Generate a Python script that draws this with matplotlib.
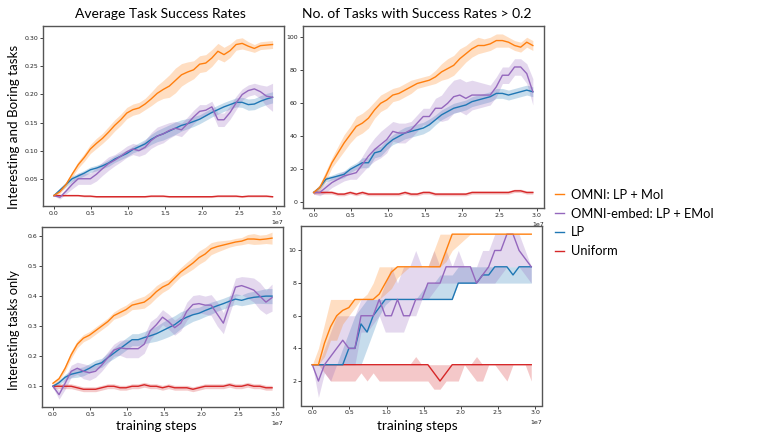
import numpy as np
import matplotlib.pyplot as plt

# training steps (37 evaluation points)
steps = np.linspace(0, 2.95e7, 37)

labels = ['OMNI: LP + MoI', 'OMNI-embed: LP + EMoI', 'LP', 'Uniform']
colors = ['#ff7f0e', '#9467bd', '#1f77b4', '#d62728']

# --- Interesting and Boring tasks: average success rate ---
avg_all_omni = [0.020, 0.027, 0.040, 0.058, 0.075, 0.088, 0.103, 0.113, 0.122, 0.133, 0.145, 0.155,
                0.167, 0.173, 0.176, 0.183, 0.192, 0.202, 0.209, 0.215, 0.225, 0.235, 0.240, 0.244,
                0.254, 0.256, 0.265, 0.277, 0.271, 0.278, 0.289, 0.291, 0.286, 0.282, 0.287, 0.288, 0.289]
avg_all_omni_sd = [0.001, 0.003, 0.004, 0.005, 0.006, 0.007, 0.008, 0.009, 0.009, 0.010, 0.010, 0.010,
                   0.010, 0.010, 0.010, 0.010, 0.012, 0.014, 0.016, 0.020, 0.022, 0.020, 0.018, 0.016,
                   0.015, 0.015, 0.015, 0.014, 0.013, 0.012, 0.010, 0.010, 0.008, 0.007, 0.007, 0.007, 0.007]
avg_all_embed = [0.020, 0.017, 0.028, 0.040, 0.050, 0.050, 0.050, 0.058, 0.068, 0.077, 0.083, 0.090,
                 0.098, 0.103, 0.100, 0.106, 0.118, 0.126, 0.130, 0.136, 0.140, 0.137, 0.148, 0.160,
                 0.170, 0.172, 0.178, 0.155, 0.155, 0.168, 0.185, 0.200, 0.207, 0.210, 0.205, 0.197, 0.195]
avg_all_embed_sd = [0.001, 0.003, 0.005, 0.008, 0.010, 0.010, 0.010, 0.012, 0.012, 0.012, 0.010, 0.010,
                    0.010, 0.010, 0.010, 0.012, 0.014, 0.016, 0.016, 0.014, 0.012, 0.012, 0.012, 0.012,
                    0.012, 0.010, 0.010, 0.012, 0.012, 0.012, 0.012, 0.010, 0.010, 0.010, 0.012, 0.018, 0.025]
avg_all_lp = [0.020, 0.030, 0.040, 0.050, 0.055, 0.060, 0.066, 0.069, 0.073, 0.078, 0.085, 0.090,
              0.095, 0.102, 0.107, 0.112, 0.120, 0.126, 0.130, 0.135, 0.140, 0.145, 0.148, 0.152,
              0.156, 0.162, 0.168, 0.173, 0.178, 0.182, 0.186, 0.186, 0.182, 0.183, 0.188, 0.192, 0.195]
avg_all_lp_sd = [0.001, 0.003, 0.004, 0.005, 0.005, 0.005, 0.005, 0.005, 0.005, 0.006, 0.006, 0.006,
                 0.006, 0.006, 0.007, 0.008, 0.009, 0.010, 0.011, 0.011, 0.011, 0.010, 0.009, 0.009,
                 0.008, 0.008, 0.008, 0.008, 0.008, 0.008, 0.008, 0.009, 0.010, 0.010, 0.010, 0.010, 0.010]
avg_all_uni = [0.020, 0.020, 0.020, 0.020, 0.020, 0.019, 0.019, 0.018, 0.018, 0.018, 0.018, 0.018,
               0.018, 0.018, 0.018, 0.018, 0.019, 0.019, 0.019, 0.018, 0.018, 0.018, 0.018, 0.018,
               0.018, 0.018, 0.018, 0.019, 0.019, 0.019, 0.019, 0.018, 0.019, 0.019, 0.019, 0.019, 0.018]
avg_all_uni_sd = [0.001] * 5 + [0.0015] * 32

# --- Interesting and Boring tasks: number of tasks with success rate > 0.2 ---
num_all_omni = [6, 9, 16, 24, 30, 36, 41, 46, 48, 51, 56, 60, 62, 65, 66, 68, 70, 72, 73, 74, 76, 79,
                81, 83, 87, 90, 93, 95, 95, 96, 98, 98, 97, 95, 94, 97, 95]
num_all_omni_sd = [1, 2, 3, 3, 4, 5, 5, 6, 6, 6, 5, 5, 5, 4, 4, 4, 4, 3, 3, 3, 4, 5, 6, 6, 6, 5, 5,
                   5, 4, 4, 4, 4, 3, 3, 3, 3, 3]
num_all_embed = [6, 6, 9, 12, 14, 16, 17, 18, 23, 28, 32, 35, 38, 43, 42, 42, 44, 48, 52, 52, 57, 57,
                 60, 64, 65, 63, 65, 65, 65, 65, 70, 77, 77, 82, 82, 78, 67]
num_all_embed_sd = [1, 2, 3, 3, 3, 3, 3, 4, 5, 6, 7, 8, 8, 6, 6, 6, 5, 5, 5, 5, 6, 8, 10, 10, 10, 10,
                    9, 8, 7, 6, 6, 5, 5, 5, 5, 6, 8]
num_all_lp = [6, 9, 14, 15, 16, 17, 20, 22, 24, 24, 30, 31, 35, 38, 40, 42, 43, 44, 45, 47, 50, 53,
              55, 57, 58, 59, 61, 62, 63, 64, 66, 66, 65, 66, 67, 68, 67]
num_all_lp_sd = [1, 1, 1.5, 1.5, 2, 2, 2, 2, 3, 3, 3, 3, 3, 3, 3.5, 3.5, 3.5, 3.5, 3.5, 3.5, 3, 3,
                 3, 3, 3, 3, 3, 3, 3, 3, 3, 3, 3, 3, 3, 3, 3]
num_all_uni = [6, 6, 6, 6, 5, 5, 6, 5, 6, 5, 5, 5, 5, 5, 5, 6, 5, 5, 6, 6, 5, 5, 5, 5, 5, 5, 6, 6,
               6, 6, 6, 6, 6, 7, 7, 6, 6]
num_all_uni_sd = [1] * 37

# --- Interesting tasks only: average success rate ---
avg_int_omni = [0.110, 0.125, 0.160, 0.205, 0.240, 0.260, 0.270, 0.285, 0.300, 0.315, 0.335, 0.345,
                0.355, 0.370, 0.375, 0.380, 0.395, 0.415, 0.430, 0.440, 0.460, 0.480, 0.495, 0.510,
                0.528, 0.540, 0.558, 0.565, 0.570, 0.575, 0.580, 0.583, 0.590, 0.590, 0.588, 0.590, 0.593]
avg_int_omni_sd = [0.005, 0.008, 0.010, 0.012, 0.012, 0.012, 0.012, 0.012, 0.012, 0.012, 0.012, 0.015,
                   0.015, 0.015, 0.018, 0.020, 0.020, 0.020, 0.018, 0.016, 0.015, 0.015, 0.018, 0.020,
                   0.022, 0.022, 0.020, 0.018, 0.015, 0.012, 0.012, 0.012, 0.015, 0.018, 0.015, 0.015, 0.020]
avg_int_embed = [0.100, 0.072, 0.110, 0.150, 0.160, 0.150, 0.145, 0.150, 0.170, 0.195, 0.220, 0.228,
                 0.225, 0.225, 0.225, 0.240, 0.285, 0.305, 0.330, 0.315, 0.295, 0.310, 0.350, 0.372,
                 0.375, 0.370, 0.370, 0.340, 0.310, 0.370, 0.430, 0.435, 0.428, 0.420, 0.400, 0.380, 0.395]
avg_int_embed_sd = [0.005, 0.015, 0.020, 0.020, 0.020, 0.025, 0.025, 0.020, 0.020, 0.020, 0.020, 0.025,
                    0.030, 0.030, 0.030, 0.030, 0.030, 0.025, 0.025, 0.025, 0.025, 0.025, 0.030, 0.030,
                    0.030, 0.030, 0.035, 0.040, 0.035, 0.030, 0.030, 0.030, 0.035, 0.040, 0.045, 0.040, 0.045]
avg_int_lp = [0.100, 0.112, 0.130, 0.140, 0.145, 0.150, 0.160, 0.172, 0.178, 0.195, 0.210, 0.225,
              0.240, 0.255, 0.255, 0.262, 0.268, 0.275, 0.285, 0.295, 0.305, 0.320, 0.330, 0.338,
              0.343, 0.352, 0.360, 0.368, 0.375, 0.383, 0.390, 0.386, 0.392, 0.396, 0.398, 0.400, 0.400]
avg_int_lp_sd = [0.005, 0.008, 0.010, 0.012, 0.015, 0.015, 0.015, 0.015, 0.015, 0.015, 0.018, 0.020,
                 0.020, 0.020, 0.020, 0.020, 0.022, 0.025, 0.028, 0.030, 0.030, 0.028, 0.025, 0.022,
                 0.020, 0.020, 0.020, 0.018, 0.018, 0.018, 0.018, 0.018, 0.020, 0.020, 0.022, 0.025, 0.025]
avg_int_uni = [0.100, 0.100, 0.100, 0.100, 0.095, 0.090, 0.090, 0.090, 0.095, 0.100, 0.100, 0.095,
               0.095, 0.100, 0.100, 0.105, 0.100, 0.100, 0.095, 0.100, 0.095, 0.095, 0.095, 0.090,
               0.095, 0.100, 0.100, 0.100, 0.100, 0.105, 0.100, 0.100, 0.105, 0.100, 0.100, 0.095, 0.095]
avg_int_uni_sd = [0.008] * 37

# --- Interesting tasks only: number of tasks with success rate > 0.2 (mean / lower / upper) ---
num_int_omni = [3, 3, 4.33, 5.33, 6, 6.33, 6.5, 7, 7, 7, 7, 7.33, 8, 8.67, 9, 9, 9, 9, 9, 9, 9, 9,
                10, 11, 11, 11, 11, 11, 11, 11, 11, 11, 11, 11, 11, 11, 11]
num_int_omni_lo = [3, 3, 3.5, 4.5, 4.5, 5.5, 6, 6.5, 7, 7, 7, 7, 7.33, 7.67, 8.33, 8.67, 9, 9, 9, 9,
                   9, 9, 9.33, 10, 10.33, 10.67, 11, 11, 11, 11, 11, 11, 11, 11, 11, 11, 11]
num_int_omni_hi = [3, 4, 5.5, 7, 7, 7, 7, 7, 7, 7.33, 8, 9, 9, 9, 9, 9, 9, 9, 9, 9, 10, 11, 11, 11,
                   11, 11, 11, 11, 11, 11, 11, 11, 11, 11, 11, 11, 11]
num_int_embed = [3, 2, 3, 3.5, 4, 4.5, 4, 4, 6, 6, 6, 7, 6, 6, 7, 6, 6, 7, 7, 8, 8, 8, 9, 9, 9, 9,
                 9, 8, 8.5, 9, 10, 10, 11, 11, 10, 9.5, 9]
num_int_embed_lo = [3, 1, 2.5, 2, 3, 3, 3, 3, 5, 5, 5.5, 6, 5, 5, 5, 5, 6, 6, 7, 7, 7.5, 8, 8, 8, 8,
                    8, 8, 8, 8, 8, 8, 8.5, 9, 9, 9, 8.5, 8]
num_int_embed_hi = [3, 3, 4, 5, 6, 6, 6, 6, 7, 7, 7, 7, 8, 9, 8, 9, 9, 10, 9, 9, 10, 9, 10, 9, 10, 9,
                    9, 9, 10, 10, 11, 11, 11, 11, 11, 10, 9]
num_int_lp = [3, 3, 3, 3, 3, 3, 4, 4, 5.5, 5, 6, 6.5, 7, 7, 7, 7, 7, 7, 7, 7, 7, 7, 7, 7, 8, 8, 8,
              8, 8.5, 8.5, 9, 9, 9, 8.5, 9, 9, 9]
num_int_lp_lo = [3, 3, 3, 3, 3, 3, 3, 3, 3, 4, 5, 6, 6.67, 7, 7, 7, 7, 7, 7, 7, 7, 7, 7, 7, 8, 8, 8,
                 8, 8, 8, 8, 8, 8, 8, 8, 8, 8]
num_int_lp_hi = [3, 3, 3, 3, 3, 4, 5, 6, 6.5, 7, 7, 7, 7, 7, 7, 7, 7, 7, 7.5, 8, 8, 8.5, 8.5, 8.5,
                 9, 9, 9, 9, 9, 9, 9, 9, 9, 9, 9, 9, 9]
num_int_uni = [3, 3, 3, 3, 3, 3, 3, 3, 3, 3, 3, 3, 3, 3, 3, 3, 3, 3, 3, 3, 2.5, 2, 2.5, 3, 3, 3, 3,
               3, 3, 3, 3, 3, 3, 3, 3, 3, 3]
num_int_uni_lo = [3, 3, 2.5, 2, 2, 2, 2, 2, 2.5, 2, 2.5, 2, 2, 2, 2, 2, 2, 2, 2, 2, 1.5, 1.5, 2, 2,
                  2, 3, 2.5, 2, 2, 3, 3, 2.5, 2, 3, 3, 3, 2]
num_int_uni_hi = [3, 3, 3, 3, 3, 3, 3, 3, 3, 3, 3, 3, 3, 3, 3, 3, 3, 3.5, 3, 3, 3, 3, 3, 3, 3, 3, 3,
                  3.5, 3, 3, 3, 3, 3, 3, 3, 3, 3]


def sd_band(mean, sd):
    m = np.array(mean)
    s = np.array(sd)
    return m, m - s, m + s


panels = [
    [sd_band(avg_all_omni, avg_all_omni_sd), sd_band(avg_all_embed, avg_all_embed_sd),
     sd_band(avg_all_lp, avg_all_lp_sd), sd_band(avg_all_uni, avg_all_uni_sd)],
    [sd_band(num_all_omni, num_all_omni_sd), sd_band(num_all_embed, num_all_embed_sd),
     sd_band(num_all_lp, num_all_lp_sd), sd_band(num_all_uni, num_all_uni_sd)],
    [sd_band(avg_int_omni, avg_int_omni_sd), sd_band(avg_int_embed, avg_int_embed_sd),
     sd_band(avg_int_lp, avg_int_lp_sd), sd_band(avg_int_uni, avg_int_uni_sd)],
    [(num_int_omni, num_int_omni_lo, num_int_omni_hi), (num_int_embed, num_int_embed_lo, num_int_embed_hi),
     (num_int_lp, num_int_lp_lo, num_int_lp_hi), (num_int_uni, num_int_uni_lo, num_int_uni_hi)],
]

W, H = 761, 442
# axes boxes in pixels: left, top, right, bottom
boxes = [(43, 25.7, 283.5, 205.7), (302.7, 25.7, 543.8, 208), (42, 226.7, 283, 406.7), (301.4, 226, 542.2, 405.5)]
ylims = [(0.002, 0.3225), (-3.4, 107), (0.032, 0.631), (0.5, 11.5)]
yticks = [[0.05, 0.10, 0.15, 0.20, 0.25, 0.30], [0, 20, 40, 60, 80, 100],
          [0.1, 0.2, 0.3, 0.4, 0.5, 0.6], [2, 4, 6, 8, 10]]

fig = plt.figure(figsize=(W / 100, H / 100), dpi=100)
label_font = 'Lato'

handles = []
for k, (l, t, r, b) in enumerate(boxes):
    ax = fig.add_axes([l / W, 1 - b / H, (r - l) / W, (b - t) / H])
    # draw back to front: uniform, lp, embed, omni
    for j in [3, 2, 1, 0]:
        mean, lo, hi = panels[k][j]
        ax.fill_between(steps, lo, hi, color=colors[j], alpha=0.25, linewidth=0)
        line, = ax.plot(steps, mean, color=colors[j], linewidth=1.0, label=labels[j])
        if k == 0:
            handles.append(line)
    ax.set_ylim(*ylims[k])
    ax.set_yticks(yticks[k])
    ax.set_xticks([0, 0.5e7, 1e7, 1.5e7, 2e7, 2.5e7, 3e7])
    ax.tick_params(labelsize=4.5, length=2, width=0.6, pad=1.5, colors='#222222')
    ax.xaxis.get_offset_text().set_fontsize(4.5)
    for s in ax.spines.values():
        s.set_color('#555555')
        s.set_linewidth(1.0)

fig.text(160.8 / W, 1 - 17.5 / H, 'Average Task Success Rates', ha='center', va='baseline',
         fontsize=10, family=label_font)
fig.text(417 / W, 1 - 17.5 / H, 'No. of Tasks with Success Rates > 0.2', ha='center', va='baseline',
         fontsize=10, family=label_font)
fig.text(14.3 / W, 1 - 127 / H, 'Interesting and Boring tasks', rotation=90, ha='center', va='center',
         fontsize=9.6, family=label_font)
fig.text(14.2 / W, 1 - 330 / H, 'Interesting tasks only', rotation=90, ha='center', va='center',
         fontsize=9.3, family=label_font)
fig.text(156 / W, 1 - 426 / H, 'training steps', ha='center', va='center', fontsize=9.8, family=label_font)
fig.text(417.5 / W, 1 - 426 / H, 'training steps', ha='center', va='center', fontsize=9.8, family=label_font)

handles = handles[::-1]
fig.legend(handles, [h.get_label() for h in handles], loc='center left',
           bbox_to_anchor=(555 / W, 1 - 223 / H), frameon=False, borderpad=0, borderaxespad=0,
           handlelength=0.7, handletextpad=0.55, labelspacing=0.52,
           prop={'family': label_font, 'size': 9.3})

fig.savefig('out.png', dpi=100)
